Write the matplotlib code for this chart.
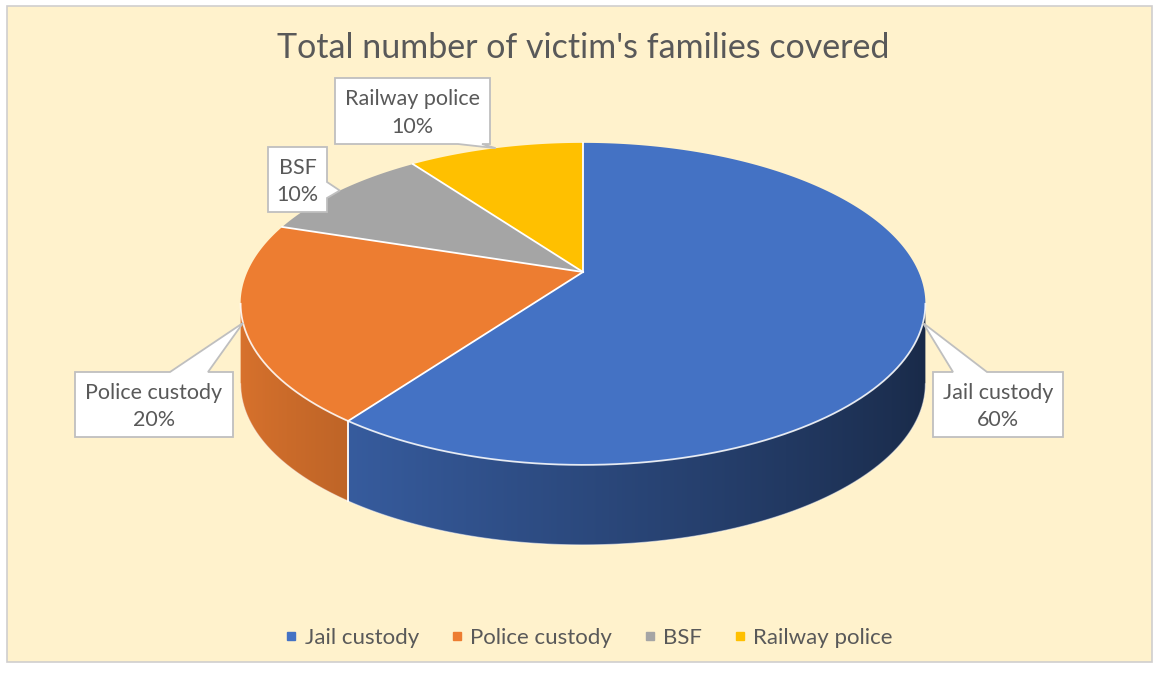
import numpy as np
import matplotlib
matplotlib.use("Agg")
import matplotlib.pyplot as plt
from matplotlib.patches import Polygon, Rectangle
from matplotlib.lines import Line2D
from matplotlib.colors import to_rgb

plt.rcParams["font.family"] = ["Lato", "DejaVu Sans"]

# data
categories = ["Jail custody", "Police custody", "BSF", "Railway police"]
shares = [60, 20, 10, 10]
colors = ["#4472C4", "#ED7D31", "#A5A5A5", "#FFC000"]
title = "Total number of victim's families covered"

TEXT = "#595959"
W, H = 1157, 675
fig = plt.figure(figsize=(W / 100, H / 100), dpi=100)
fig.patch.set_facecolor("white")
ax = fig.add_axes([0, 0, 1, 1])
ax.set_xlim(0, W)
ax.set_ylim(H, 0)
ax.axis("off")

# chart area
ax.add_patch(Rectangle((7, 6), 1145, 656, fc="#FFF2CC", ec="#D0CECE", lw=1.2, zorder=0))

# 3D pie in perspective (pixel space)
CX, CY, RX, RY, K, DEPTH = 583, 272, 335.6, 154.7, 0.198, 80


def proj(phi):
    # phi in degrees, clockwise from 12 o'clock
    p = np.radians(phi)
    u, v = np.sin(p), -np.cos(p)
    d = 1 - K * v
    return CX + RX * u / d, CY + RY * v / d


total = float(sum(shares))
edges = np.concatenate([[0], np.cumsum(shares) / total * 360])

# visible side range: between the two silhouette points
grid = np.linspace(0, 360, 3601)
gx, _ = proj(grid)
phi_r = grid[:1801][np.argmax(gx[:1801])]
phi_l = grid[1800:][np.argmin(gx[1800:])]


def shade(phi):
    return np.clip(0.64 - 0.28 * np.sin(np.radians(phi)), 0, 1)


# front arc: x -> phi lookup for the side gradient
front = np.linspace(phi_l, phi_r, 2000)
fx, _ = proj(front)

# side walls with gradient, clipped to each slice's wall
for i, c in enumerate(colors):
    a, b = max(edges[i], phi_r), min(edges[i + 1], phi_l)
    if b <= a:
        continue
    ph = np.linspace(a, b, 300)
    xs, ys = proj(ph)
    pts = list(zip(xs, ys)) + list(zip(xs[::-1], ys[::-1] + DEPTH))
    wall = Polygon(pts, closed=True, fc="none", ec="none")
    ax.add_patch(wall)
    cols = np.linspace(xs.min() - 2, xs.max() + 2, 600)
    phc = np.interp(cols, fx, front)
    img = np.array(to_rgb(c))[None, None, :] * shade(phc)[None, :, None]
    im = ax.imshow(img, extent=(cols[0], cols[-1], ys.max() + DEPTH + 2, ys.min() - 2),
                   aspect="auto", interpolation="bilinear", zorder=2)
    im.set_clip_path(wall)

ax.set_xlim(0, W)
ax.set_ylim(H, 0)

# bottom outline of side
ph = np.linspace(phi_r, phi_l, 400)
xs, ys = proj(ph)
ax.plot(xs, ys + DEPTH, color="white", lw=0.8, alpha=0.5, zorder=3)

# top faces
for i, c in enumerate(colors):
    ph = np.linspace(edges[i], edges[i + 1], 200)
    xs, ys = proj(ph)
    pts = [(CX, CY)] + list(zip(xs, ys))
    ax.add_patch(Polygon(pts, closed=True, fc=c, ec="none", zorder=4))

# white edges
for e in edges[:-1]:
    ex, ey = proj(e)
    ax.plot([CX, ex], [CY, ey], color="white", lw=1.3, zorder=4.5)
    if phi_r < e < phi_l:
        ax.plot([ex, ex], [ey, ey + DEPTH], color="white", lw=1.3, zorder=4.5)
ph = np.linspace(phi_r, phi_l, 400)
xs, ys = proj(ph)
ax.plot(xs, ys, color="white", lw=1.3, alpha=0.85, zorder=4.5)

ax.text(CX, 48, title, ha="center", va="center", fontsize=24.5, color=TEXT)

# callout boxes: (x0, y0, x1, y1), side of pointer, notch span
layout = {
    "Jail custody": ((933, 372, 1063, 437), "top", (953, 987)),
    "Police custody": ((75, 372, 233, 437), "top", (170, 208)),
    "BSF": ((268, 147, 327, 212), "right", (182, 198)),
    "Railway police": ((335, 78, 490, 144), "bottom", (458, 482)),
}

for i, cat in enumerate(categories):
    (x0, y0, x1, y1), side, (n0, n1) = layout[cat]
    tip = proj((edges[i] + edges[i + 1]) / 2)
    if side == "top":
        pts = [(x0, y0), (n0, y0), tip, (n1, y0), (x1, y0), (x1, y1), (x0, y1)]
    elif side == "bottom":
        pts = [(x0, y0), (x1, y0), (x1, y1), (n1, y1), tip, (n0, y1), (x0, y1)]
    else:
        pts = [(x0, y0), (x1, y0), (x1, n0), tip, (x1, n1), (x1, y1), (x0, y1)]
    ax.add_patch(Polygon(pts, closed=True, fc="white", ec="#BFBFBF", lw=1.3, zorder=6))
    pct = shares[i] / total * 100
    ax.text((x0 + x1) / 2, (y0 + y1) / 2 + 2, f"{cat}\n{pct:.0f}%", ha="center", va="center",
            fontsize=15.5, color=TEXT, linespacing=1.45, zorder=7)

handles = [Line2D([], [], marker="s", ls="none", color=c, markersize=6) for c in colors]
fig.legend(handles, categories, loc="center", bbox_to_anchor=(589 / W, 1 - 638 / H),
           ncol=4, frameon=False, fontsize=16, labelcolor=TEXT, handlelength=0.5,
           handletextpad=0.35, columnspacing=1.45)

fig.savefig("out.png", dpi=100, facecolor=fig.get_facecolor())
